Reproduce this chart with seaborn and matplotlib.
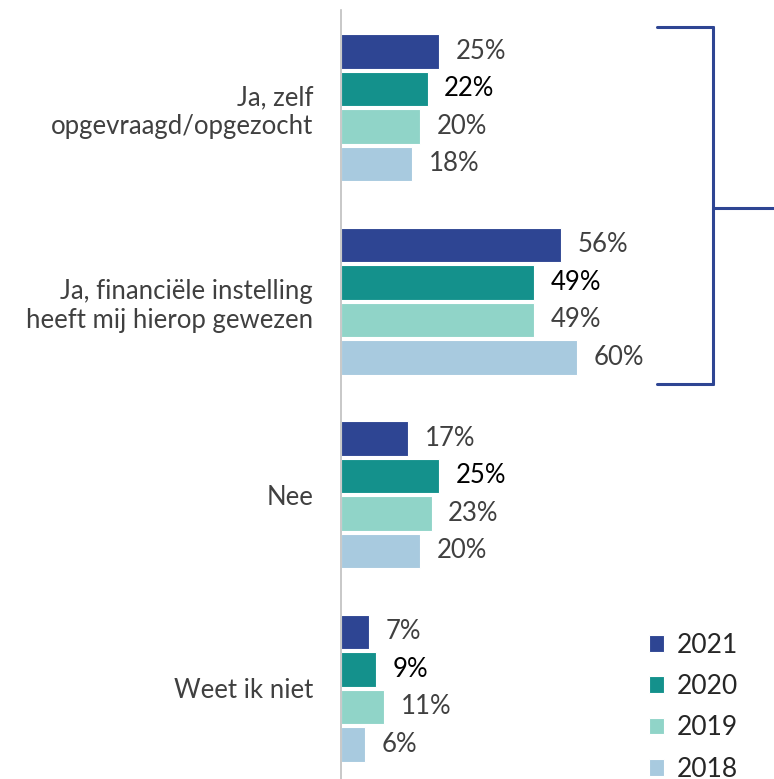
import pandas as pd
import numpy as np
import matplotlib.pyplot as plt
import seaborn as sns
from matplotlib.lines import Line2D

sns.set_style('white')
plt.rcParams['font.family'] = ['Lato', 'DejaVu Sans']

# data
categories = ['Ja, zelf\nopgevraagd/opgezocht',
              'Ja, financiële instelling\nheeft mij hierop gewezen',
              'Nee',
              'Weet ik niet']
years = ['2021', '2020', '2019', '2018']
v2021 = [25, 56, 17, 7]
v2020 = [22, 49, 25, 9]
v2019 = [20, 49, 23, 11]
v2018 = [18, 60, 20, 6]
colors = ['#2E4593', '#14918C', '#90D4C8', '#A8CADF']

rows = []
for yr, vals in zip(years, [v2021, v2020, v2019, v2018]):
    for c, v in zip(categories, vals):
        rows.append({'cat': c, 'year': yr, 'pct': v})
df = pd.DataFrame(rows)

fig = plt.figure(figsize=(7.74, 7.79), dpi=100)
ax = fig.add_axes([341 / 774, 0, 1 - 341 / 774 - 0.02, 1 - 10 / 779])

sns.barplot(data=df, x='pct', y='cat', hue='year', hue_order=years,
            order=categories, palette=colors, saturation=1, orient='h',
            width=0.775, gap=0.08, edgecolor='white', linewidth=0.8,
            ax=ax, legend=True)

for i, cont in enumerate(ax.containers):
    col = 'black' if years[i] == '2020' else '#404040'
    ax.bar_label(cont, labels=[f'{int(v)}%' for v in cont.datavalues],
                 padding=12, fontsize=18.5, color=col)

ax.set_xlim(0, (758 - 341) / 3.93)
ax.set_ylim(3.47, -0.504)
ax.set_xlabel('')
ax.set_ylabel('')
ax.set_xticks([])
ax.tick_params(axis='y', length=0, pad=20, labelsize=18.5, labelcolor='#404040')
for lab in ax.get_yticklabels():
    lab.set_horizontalalignment('right')
    lab.set_multialignment('right')
for s in ['top', 'right', 'bottom']:
    ax.spines[s].set_visible(False)
ax.spines['left'].set_color('#BFBFBF')
ax.spines['left'].set_linewidth(1.2)

h, l = ax.get_legend_handles_labels()
ax.legend(h, l, loc='upper left', bbox_to_anchor=(638 / 774, 1 - 622 / 779),
          bbox_transform=fig.transFigure, frameon=False, fontsize=19,
          handlelength=0.6, handleheight=0.6, handletextpad=0.45,
          labelspacing=0.62, borderaxespad=0)

# bracket
bc = '#2E4593'
W, H = 774, 779
def fl(x0, y0, x1, y1):
    fig.add_artist(Line2D([x0 / W, x1 / W], [1 - y0 / H, 1 - y1 / H],
                          color=bc, lw=2.2, transform=fig.transFigure))
fl(657, 27, 713, 27)
fl(713, 27, 713, 384)
fl(657, 384, 713, 384)
fl(713, 208, 774, 208)

fig.savefig('out.png', dpi=100)
